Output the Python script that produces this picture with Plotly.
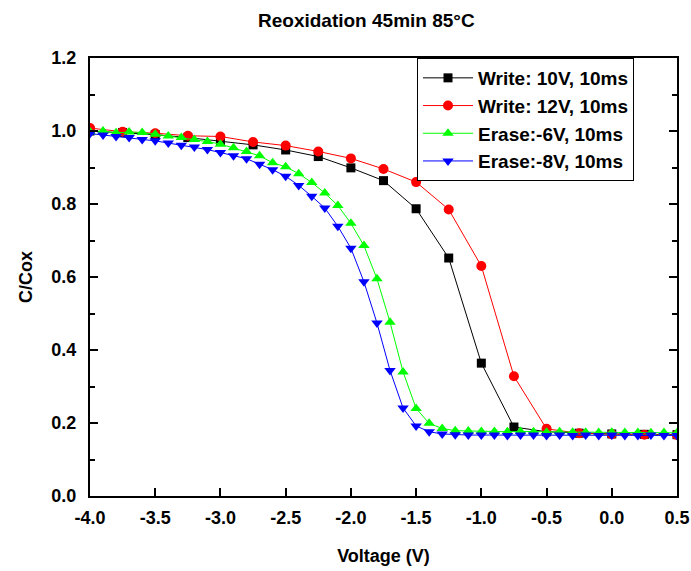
import plotly.graph_objects as go

# ---------------- data ----------------
v_write = [-4.0, -3.75, -3.5, -3.25, -3.0, -2.75, -2.5, -2.25, -2.0, -1.75,
           -1.5, -1.25, -1.0, -0.75, -0.5, -0.25, 0.0, 0.25, 0.5]
write_10v = [1.000, 0.996, 0.990, 0.982, 0.972, 0.962, 0.948, 0.930, 0.899, 0.864,
             0.787, 0.652, 0.364, 0.189, 0.176, 0.172, 0.170, 0.169, 0.168]
write_12v = [1.008, 0.998, 0.994, 0.987, 0.985, 0.970, 0.960, 0.944, 0.925, 0.896,
             0.860, 0.785, 0.630, 0.328, 0.184, 0.172, 0.169, 0.168, 0.167]

v_erase = [-4.0, -3.9, -3.8, -3.7, -3.6, -3.5, -3.4, -3.3, -3.2, -3.1,
           -3.0, -2.9, -2.8, -2.7, -2.6, -2.5, -2.4, -2.3, -2.2, -2.1,
           -2.0, -1.9, -1.8, -1.7, -1.6, -1.5, -1.4, -1.3, -1.2, -1.1,
           -1.0, -0.9, -0.8, -0.7, -0.6, -0.5, -0.4, -0.3, -0.2, -0.1,
           0.0, 0.1, 0.2, 0.3, 0.4, 0.5]
erase_6v = [0.998, 1.000, 0.995, 0.997, 0.996, 0.991, 0.986, 0.982, 0.977, 0.971,
            0.964, 0.954, 0.944, 0.932, 0.913, 0.902, 0.883, 0.859, 0.830, 0.796,
            0.747, 0.686, 0.595, 0.476, 0.340, 0.240, 0.199, 0.185, 0.179, 0.178,
            0.177, 0.177, 0.176, 0.177, 0.176, 0.175, 0.176, 0.175, 0.175, 0.174,
            0.175, 0.174, 0.174, 0.173, 0.174, 0.173]
erase_8v = [0.993, 0.989, 0.985, 0.982, 0.977, 0.973, 0.967, 0.961, 0.956, 0.949,
            0.941, 0.932, 0.924, 0.909, 0.894, 0.876, 0.851, 0.821, 0.789, 0.739,
            0.679, 0.587, 0.474, 0.344, 0.241, 0.192, 0.176, 0.170, 0.168, 0.167,
            0.167, 0.167, 0.166, 0.167, 0.167, 0.166, 0.167, 0.166, 0.167, 0.166,
            0.167, 0.166, 0.166, 0.167, 0.166, 0.166]

series_names = ["Write: 10V, 10ms", "Write: 12V, 10ms", "Erase:-6V, 10ms", "Erase:-8V, 10ms"]

x_tickvals = [-4.0, -3.5, -3.0, -2.5, -2.0, -1.5, -1.0, -0.5, 0.0, 0.5]
x_ticktext = ["-4.0", "-3.5", "-3.0", "-2.5", "-2.0", "-1.5", "-1.0", "-0.5", "0.0", "0.5"]
y_tickvals = [0.0, 0.2, 0.4, 0.6, 0.8, 1.0, 1.2]
y_ticktext = ["0.0", "0.2", "0.4", "0.6", "0.8", "1.0", "1.2"]

title_text = "Reoxidation 45min 85°C"
x_title = "Voltage (V)"
y_title = "C/Cox"

# ---------------- figure ----------------
FONT = "Liberation Sans, Arial, sans-serif"

fig = go.Figure()
styles = [
    ("black", "square", 9),
    ("#ff0000", "circle", 10),
    ("#00ff00", "triangle-up", 10),
    ("#0000ff", "triangle-down", 10),
]
xs = [v_write, v_write, v_erase, v_erase]
ys = [write_10v, write_12v, erase_6v, erase_8v]
for name, x, y, (col, sym, sz) in zip(series_names, xs, ys, styles):
    fig.add_trace(go.Scatter(
        x=x, y=y, name="<b>" + name + "</b>", mode="lines+markers",
        line=dict(color=col, width=1),
        marker=dict(color=col, symbol=sym, size=sz, line=dict(width=0)),
    ))

fig.update_layout(
    width=691, height=571,
    margin=dict(l=90, r=14, t=58, b=75),
    paper_bgcolor="white", plot_bgcolor="white",
    font=dict(family=FONT, size=17, color="black"),
    showlegend=True,
    legend=dict(
        x=(417 - 90) / 587, y=1.0, xanchor="left", yanchor="top",
        bgcolor="white", bordercolor="black", borderwidth=1,
        font=dict(family=FONT, size=19, color="black"),
        tracegroupgap=0, itemwidth=50,
    ),
    annotations=[dict(
        text="<b>" + title_text + "</b>", xref="paper", yref="paper",
        x=(366 - 90) / 587, y=1.0, yshift=38, xanchor="center", yanchor="middle",
        showarrow=False, font=dict(family=FONT, size=19, color="black"),
    )],
)

fig.update_xaxes(
    range=[-4.0, 0.5], tickvals=x_tickvals,
    ticktext=["<b>" + t + "</b>" for t in x_ticktext],
    ticks="inside", ticklen=8, tickwidth=2, tickcolor="black",
    showline=True, linecolor="black", linewidth=2, mirror=True,
    showgrid=False, zeroline=False, automargin=False,
    ticklabelstandoff=4,
    tickfont=dict(family=FONT, size=18, color="black"),
    title=dict(text="<b>" + x_title + "</b>", font=dict(family=FONT, size=18), standoff=23),
)
fig.update_yaxes(
    range=[0.0, 1.2], tickvals=y_tickvals,
    ticktext=["<b>" + t + "</b>" for t in y_ticktext],
    ticks="inside", ticklen=8, tickwidth=2, tickcolor="black",
    minor=dict(ticks="inside", ticklen=5, tickwidth=2, tickcolor="black", dtick=0.1, showgrid=False),
    showline=True, linecolor="black", linewidth=2, mirror="ticks",
    showgrid=False, zeroline=False, automargin=False,
    ticklabelstandoff=8,
    tickfont=dict(family=FONT, size=18, color="black"),
    title=dict(text="<b>" + y_title + "</b>", font=dict(family=FONT, size=18), standoff=14),
)

fig.write_html("out.html")
